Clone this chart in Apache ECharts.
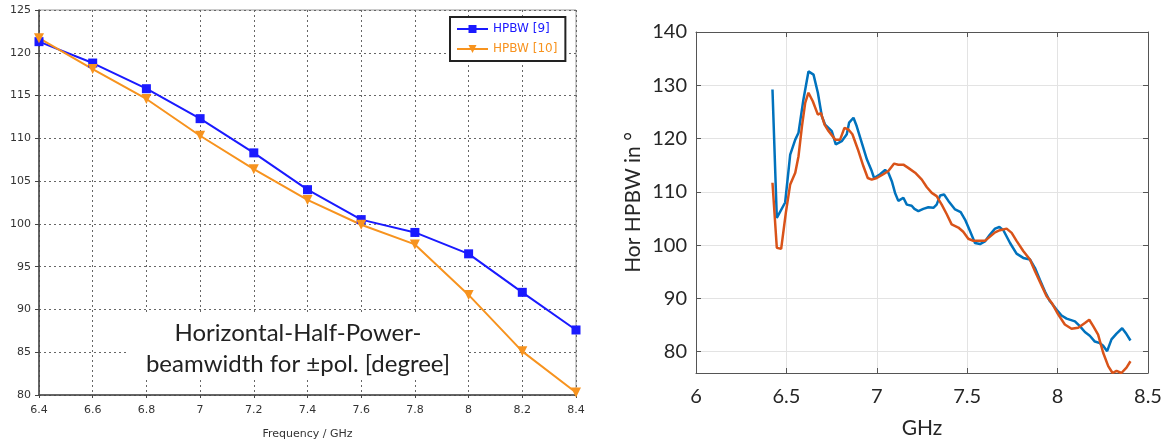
<!DOCTYPE html>
<html>
<head>
<meta charset="utf-8">
<script src="https://cdn.jsdelivr.net/npm/echarts@6/dist/echarts.min.js"></script>
<style>
  html, body { margin: 0; padding: 0; background: #fff; }
  #chart { width: 1170px; height: 445px; }
</style>
</head>
<body>
<div id="chart"></div>
<script>
// left panel: HPBW at the 0.2 GHz steps
const freqLeft = [6.4, 6.6, 6.8, 7.0, 7.2, 7.4, 7.6, 7.8, 8.0, 8.2, 8.4];
const hpbw9 = [121.3, 118.8, 115.8, 112.3, 108.3, 104.0, 100.5, 99.0, 96.5, 92.0, 87.6];
const hpbw10 = [121.7, 118.1, 114.6, 110.3, 106.4, 102.8, 99.9, 97.6, 91.7, 85.1, 80.3];

// right panel: measured curves
const freqBlue = [6.423, 6.447, 6.493, 6.521, 6.549, 6.567, 6.594, 6.622, 6.650, 6.674, 6.696, 6.714, 6.751, 6.773, 6.806, 6.834, 6.847, 6.871, 6.889, 6.917, 6.945, 6.972, 6.985, 7.018, 7.046, 7.064, 7.083, 7.101, 7.119, 7.147, 7.166, 7.193, 7.208, 7.230, 7.257, 7.285, 7.313, 7.331, 7.350, 7.372, 7.396, 7.433, 7.464, 7.488, 7.516, 7.543, 7.571, 7.598, 7.626, 7.654, 7.678, 7.700, 7.737, 7.773, 7.810, 7.847, 7.875, 7.902, 7.930, 7.957, 7.994, 8.022, 8.050, 8.096, 8.123, 8.151, 8.178, 8.206, 8.234, 8.252, 8.274, 8.298, 8.326, 8.357, 8.381, 8.403];
const hpbwBlue = [129.2, 105.1, 108.0, 117.0, 119.8, 121.1, 127.3, 132.6, 132.0, 128.6, 124.2, 122.6, 121.4, 118.9, 119.5, 120.8, 123.0, 123.9, 122.3, 119.2, 116.1, 113.9, 112.6, 113.3, 114.1, 113.6, 112.0, 109.8, 108.3, 108.9, 107.6, 107.4, 106.8, 106.4, 106.8, 107.1, 107.0, 107.6, 109.3, 109.5, 108.3, 106.7, 106.2, 104.8, 102.6, 100.4, 100.2, 100.7, 102.0, 103.1, 103.4, 102.8, 100.4, 98.4, 97.6, 97.3, 95.7, 93.5, 91.3, 89.5, 87.9, 86.8, 86.2, 85.7, 84.8, 83.7, 83.0, 81.9, 81.6, 81.1, 80.1, 82.3, 83.4, 84.4, 83.3, 82.1];

const freqRed = [6.423, 6.447, 6.471, 6.497, 6.521, 6.549, 6.567, 6.586, 6.604, 6.622, 6.646, 6.674, 6.691, 6.711, 6.733, 6.770, 6.797, 6.821, 6.843, 6.865, 6.895, 6.926, 6.950, 6.972, 7.000, 7.036, 7.064, 7.096, 7.119, 7.147, 7.174, 7.212, 7.249, 7.276, 7.304, 7.331, 7.359, 7.387, 7.414, 7.451, 7.478, 7.506, 7.534, 7.571, 7.598, 7.626, 7.654, 7.681, 7.718, 7.746, 7.773, 7.810, 7.847, 7.875, 7.912, 7.939, 7.967, 8.003, 8.040, 8.077, 8.114, 8.151, 8.175, 8.197, 8.224, 8.252, 8.280, 8.304, 8.326, 8.353, 8.381, 8.403];
const hpbwRed = [111.7, 99.5, 99.3, 106.1, 111.4, 113.6, 116.7, 122.3, 126.7, 128.6, 127.0, 124.5, 124.8, 122.6, 121.4, 119.8, 119.8, 122.0, 121.7, 120.8, 118.0, 114.8, 112.6, 112.3, 112.6, 113.3, 113.9, 115.3, 115.1, 115.1, 114.5, 113.6, 112.3, 110.9, 109.8, 109.2, 107.6, 105.8, 103.9, 103.3, 102.5, 101.2, 100.8, 100.8, 100.8, 101.6, 102.4, 102.8, 103.1, 102.3, 100.8, 98.9, 97.3, 95.1, 92.4, 90.4, 89.2, 87.0, 85.1, 84.3, 84.5, 85.4, 86.0, 84.8, 83.2, 79.8, 77.3, 76.0, 76.4, 76.0, 77.0, 78.2];

const rightTicks = [80, 90, 100, 110, 120, 130, 140];

function zip(xs, ys) {
    return xs.map(function (x, i) { return [x, ys[i]]; });
}

const leftFont = 'DejaVu Sans';
const rightFont = 'Lato';

let myChart = echarts.init(document.getElementById('chart'), null, { renderer: 'canvas' });

let option = {
    animation: false,
    grid: [
        { left: 39, top: 10, width: 537, height: 386, show: true, borderColor: '#999', borderWidth: 1 },
        { left: 696, top: 32, width: 452, height: 341 }
    ],
    legend: {
        orient: 'vertical',
        left: 450,
        top: 17,
        padding: [6, 8, 6, 6],
        itemGap: 8,
        itemWidth: 31,
        itemHeight: 10,
        borderColor: '#222',
        borderWidth: 2,
        backgroundColor: '#fff',
        textStyle: { fontFamily: leftFont, fontSize: 12 },
        data: [
            { name: 'HPBW [9]', textStyle: { color: '#1a1aff' } },
            { name: 'HPBW [10]', textStyle: { color: '#f7931e' } }
        ]
    },
    xAxis: [
        {
            gridIndex: 0,
            type: 'value',
            min: 6.4,
            max: 8.4,
            interval: 0.2,
            name: 'Frequency / GHz',
            nameLocation: 'middle',
            nameGap: 34,
            nameTextStyle: { fontFamily: leftFont, fontSize: 11, color: '#333' },
            axisLine: { lineStyle: { color: '#444', width: 1.5 } },
            axisTick: { show: true, length: 3, lineStyle: { color: '#444' } },
            axisLabel: { fontFamily: leftFont, fontSize: 11, color: '#333', margin: 10 },
            splitLine: { show: true, lineStyle: { color: '#666', type: [2, 3], width: 1 } }
        },
        {
            gridIndex: 1,
            type: 'value',
            min: 6,
            max: 8.5,
            interval: 0.5,
            name: 'GHz',
            nameLocation: 'middle',
            nameGap: 45,
            nameTextStyle: { fontFamily: rightFont, fontSize: 21, color: '#262626' },
            axisLine: { lineStyle: { color: '#555', width: 1 } },
            axisTick: { show: true, inside: true, length: 5, lineStyle: { color: '#555' } },
            axisLabel: { fontFamily: rightFont, fontSize: 20, color: '#262626', margin: 14 },
            splitLine: { show: true, lineStyle: { color: '#e3e3e3', width: 1 } }
        },
        {
            gridIndex: 1,
            type: 'value',
            position: 'top',
            min: 6,
            max: 8.5,
            interval: 0.5,
            axisLine: { lineStyle: { color: '#555', width: 1 } },
            axisTick: { show: true, inside: true, length: 5, lineStyle: { color: '#555' } },
            axisLabel: { show: false },
            splitLine: { show: false }
        }
    ],
    yAxis: [
        {
            gridIndex: 0,
            type: 'value',
            min: 80,
            max: 125,
            interval: 5,
            axisLine: { show: true, lineStyle: { color: '#444', width: 1.5 } },
            axisTick: { show: true, length: 4, lineStyle: { color: '#444' } },
            axisLabel: { fontFamily: leftFont, fontSize: 11, color: '#333', margin: 8 },
            splitLine: { show: true, lineStyle: { color: '#666', type: [2, 3], width: 1 } }
        },
        {
            gridIndex: 1,
            type: 'value',
            min: 76,
            max: 140,
            name: 'Hor HPBW in °',
            nameLocation: 'middle',
            nameRotate: 90,
            nameGap: 52,
            nameTextStyle: { fontFamily: rightFont, fontSize: 21, color: '#262626' },
            axisLine: { show: true, lineStyle: { color: '#555', width: 1 } },
            axisTick: { show: true, inside: true, length: 5, customValues: rightTicks, lineStyle: { color: '#555' } },
            axisLabel: { fontFamily: rightFont, fontSize: 20, color: '#262626', margin: 9, customValues: rightTicks },
            splitLine: { show: true, lineStyle: { color: '#e3e3e3', width: 1 } }
        },
        {
            gridIndex: 1,
            type: 'value',
            position: 'right',
            min: 76,
            max: 140,
            axisLine: { show: true, lineStyle: { color: '#555', width: 1 } },
            axisTick: { show: true, inside: true, length: 5, customValues: rightTicks, lineStyle: { color: '#555' } },
            axisLabel: { show: false },
            splitLine: { show: false }
        }
    ],
    graphic: [
        {
            type: 'rect',
            x: 128,
            y: 313,
            shape: { width: 339, height: 64 },
            style: { fill: '#fff' },
            z: 50
        },
        {
            type: 'text',
            x: 298,
            y: 318,
            style: {
                text: 'Horizontal-Half-Power-\nbeamwidth for ±pol. [degree]',
                fontFamily: rightFont,
                fontSize: 24,
                lineHeight: 31,
                fill: '#222',
                align: 'center',
                verticalAlign: 'top'
            },
            z: 51
        }
    ],
    series: [
        {
            name: 'HPBW [9]',
            type: 'line',
            xAxisIndex: 0,
            yAxisIndex: 0,
            data: zip(freqLeft, hpbw9),
            symbol: 'rect',
            symbolSize: 9,
            color: '#1a1aff',
            lineStyle: { width: 2 }
        },
        {
            name: 'HPBW [10]',
            type: 'line',
            xAxisIndex: 0,
            yAxisIndex: 0,
            data: zip(freqLeft, hpbw10),
            symbol: 'triangle',
            symbolRotate: 180,
            symbolSize: 10,
            color: '#f7931e',
            lineStyle: { width: 2 }
        },
        {
            name: 'blue',
            type: 'line',
            xAxisIndex: 1,
            yAxisIndex: 1,
            data: zip(freqBlue, hpbwBlue),
            showSymbol: false,
            color: '#0072bd',
            lineStyle: { width: 2.5 }
        },
        {
            name: 'red',
            type: 'line',
            xAxisIndex: 1,
            yAxisIndex: 1,
            data: zip(freqRed, hpbwRed),
            showSymbol: false,
            color: '#d95319',
            lineStyle: { width: 2.5 }
        }
    ]
};

option && myChart.setOption(option);
</script>
</body>
</html>
